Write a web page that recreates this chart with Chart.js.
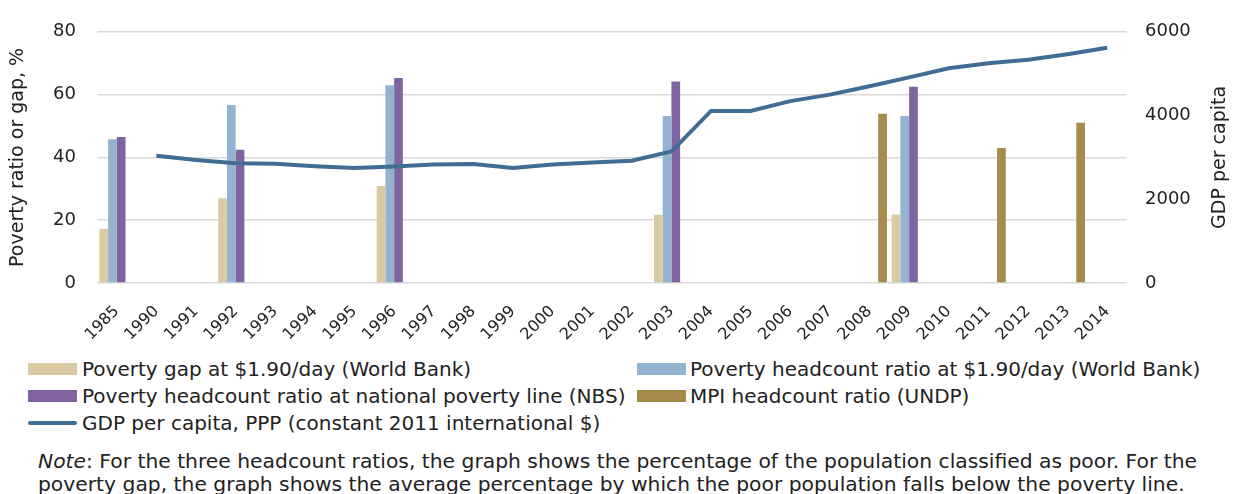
<!DOCTYPE html>
<html>
<head>
<meta charset="utf-8">
<script src="https://cdn.jsdelivr.net/npm/chart.js@4/dist/chart.umd.min.js"></script>
<style>
  body { margin: 0; background: #fff; width: 1233px; height: 494px; overflow: hidden; position: relative; font-family: "DejaVu Sans", sans-serif; color: #222; }
  #wrap { position: absolute; left: 0; top: 0; width: 1233px; height: 350px; }
  .lg { position: absolute; font-size: 20px; white-space: nowrap; line-height: 26px; height: 26px; }
  .sw { position: absolute; left: 0; top: 7px; width: 49px; height: 12px; }
  .ln { position: absolute; left: 0; top: 11px; width: 49px; height: 4px; border-radius: 2px; }
  .lg span.t { position: absolute; white-space: nowrap; }
  #note { position: absolute; left: 38px; top: 450px; font-size: 20.3px; line-height: 23px; white-space: nowrap; color: #222; }
</style>
</head>
<body>
<div id="wrap"><canvas id="c"></canvas></div>

<div class="lg" style="left:28px; top:356px"><span class="sw" style="background:#d9caa3"></span><span class="t" style="left:54px">Poverty gap at $1.90/day (World Bank)</span></div>
<div class="lg" style="left:637px; top:356px"><span class="sw" style="background:#93b3d0"></span><span class="t" style="left:53px">Poverty headcount ratio at $1.90/day (World Bank)</span></div>
<div class="lg" style="left:28px; top:383px"><span class="sw" style="background:#8064a2"></span><span class="t" style="left:54px">Poverty headcount ratio at national poverty line (NBS)</span></div>
<div class="lg" style="left:637px; top:383px"><span class="sw" style="background:#a68b4a"></span><span class="t" style="left:53px">MPI headcount ratio (UNDP)</span></div>
<div class="lg" style="left:28px; top:410px"><span class="ln" style="background:#416d94"></span><span class="t" style="left:54px">GDP per capita, PPP (constant 2011 international $)</span></div>

<div id="note"><i>Note</i>: For the three headcount ratios, the graph shows the percentage of the population classified as poor. For the<br>poverty gap, the graph shows the average percentage by which the poor population falls below the poverty line.</div>

<script>
const years = ['1985','1990','1991','1992','1993','1994','1995','1996','1997','1998','1999','2000','2001',
  '2002','2003','2004','2005','2006','2007','2008','2009','2010','2011','2012','2013','2014'];

const povertyGapWB = [17.2, null, null, 27.0, null, null, null, 30.9, null, null, null, null, null,
  null, 21.7, null, null, null, null, null, 21.8, null, null, null, null, null];
const headcountWB = [45.8, null, null, 56.7, null, null, null, 63.0, null, null, null, null, null,
  null, 53.2, null, null, null, null, null, 53.2, null, null, null, null, null];
const headcountNBS = [46.5, null, null, 42.4, null, null, null, 65.3, null, null, null, null, null,
  null, 64.2, null, null, null, null, null, 62.5, null, null, null, null, null];
const mpiUNDP = [null, null, null, null, null, null, null, null, null, null, null, null, null,
  null, null, null, null, null, null, 53.9, null, null, 43.0, null, 51.0, null];
const gdpPerCapita = [null, 3040, 2940, 2862, 2850, 2790, 2745, 2785, 2830, 2840, 2745, 2830, 2880,
  2920, 3140, 4110, 4110, 4345, 4500, 4700, 4912, 5130, 5250, 5330, 5465, 5620];

const textColor = '#222';
const tickFont = { family: 'DejaVu Sans', size: 18 };
const titleFont = { family: 'DejaVu Sans', size: 19 };

// right axis title reads bottom-to-top, chart.js would rotate it the other way
const rightTitle = {
  id: 'rightTitle',
  afterDraw(chart) {
    const ctx = chart.ctx, area = chart.chartArea;
    ctx.save();
    ctx.translate(1220, (area.top + area.bottom) / 2);
    ctx.rotate(-Math.PI / 2);
    ctx.font = '19px "DejaVu Sans"';
    ctx.fillStyle = textColor;
    ctx.textAlign = 'center';
    ctx.textBaseline = 'middle';
    ctx.fillText('GDP per capita', 0, 0);
    ctx.restore();
  }
};

new Chart(document.getElementById('c'), {
  type: 'bar',
  data: {
    labels: years,
    datasets: [
      { label: 'Poverty gap at $1.90/day (World Bank)', data: povertyGapWB, backgroundColor: '#d9caa3', order: 1 },
      { label: 'Poverty headcount ratio at $1.90/day (World Bank)', data: headcountWB, backgroundColor: '#93b3d0', order: 1 },
      { label: 'Poverty headcount ratio at national poverty line (NBS)', data: headcountNBS, backgroundColor: '#8064a2', order: 1 },
      { label: 'MPI headcount ratio (UNDP)', data: mpiUNDP, backgroundColor: '#a68b4a', order: 1 },
      { type: 'line', label: 'GDP per capita, PPP (constant 2011 international $)', data: gdpPerCapita,
        yAxisID: 'y1', borderColor: '#416d94', borderWidth: 4, pointRadius: 0, tension: 0, order: 0 }
    ]
  },
  options: {
    responsive: true,
    maintainAspectRatio: false,
    animation: false,
    datasets: { bar: { barPercentage: 1, categoryPercentage: 0.88 } },
    layout: { padding: { top: 30, left: 0, right: 0, bottom: 0 } },
    plugins: { legend: { display: false }, tooltip: { enabled: false } },
    scales: {
      x: {
        grid: { display: false },
        border: { display: false },
        ticks: { font: { family: 'DejaVu Sans', size: 16 }, color: textColor, minRotation: 45, maxRotation: 45, autoSkip: false, padding: 11 },
        afterFit: s => { s.height = 67; }
      },
      y: {
        position: 'left', min: 0, max: 80,
        ticks: { stepSize: 20, font: tickFont, color: textColor, padding: 21 },
        grid: { color: '#d9d9d9', lineWidth: 1.5, drawTicks: false },
        border: { display: false },
        title: { display: true, text: 'Poverty ratio or gap, %', font: titleFont, color: textColor, padding: { top: 7, bottom: 0 } },
        afterFit: s => { s.width = 97; }
      },
      y1: {
        position: 'right', min: 0, max: 6000,
        ticks: { stepSize: 2000, font: tickFont, color: textColor, padding: 18, callback: v => String(v) },
        grid: { display: false, drawTicks: false },
        border: { display: false },
        afterFit: s => { s.width = 106; }
      }
    }
  },
  plugins: [rightTitle]
});
</script>
</body>
</html>
